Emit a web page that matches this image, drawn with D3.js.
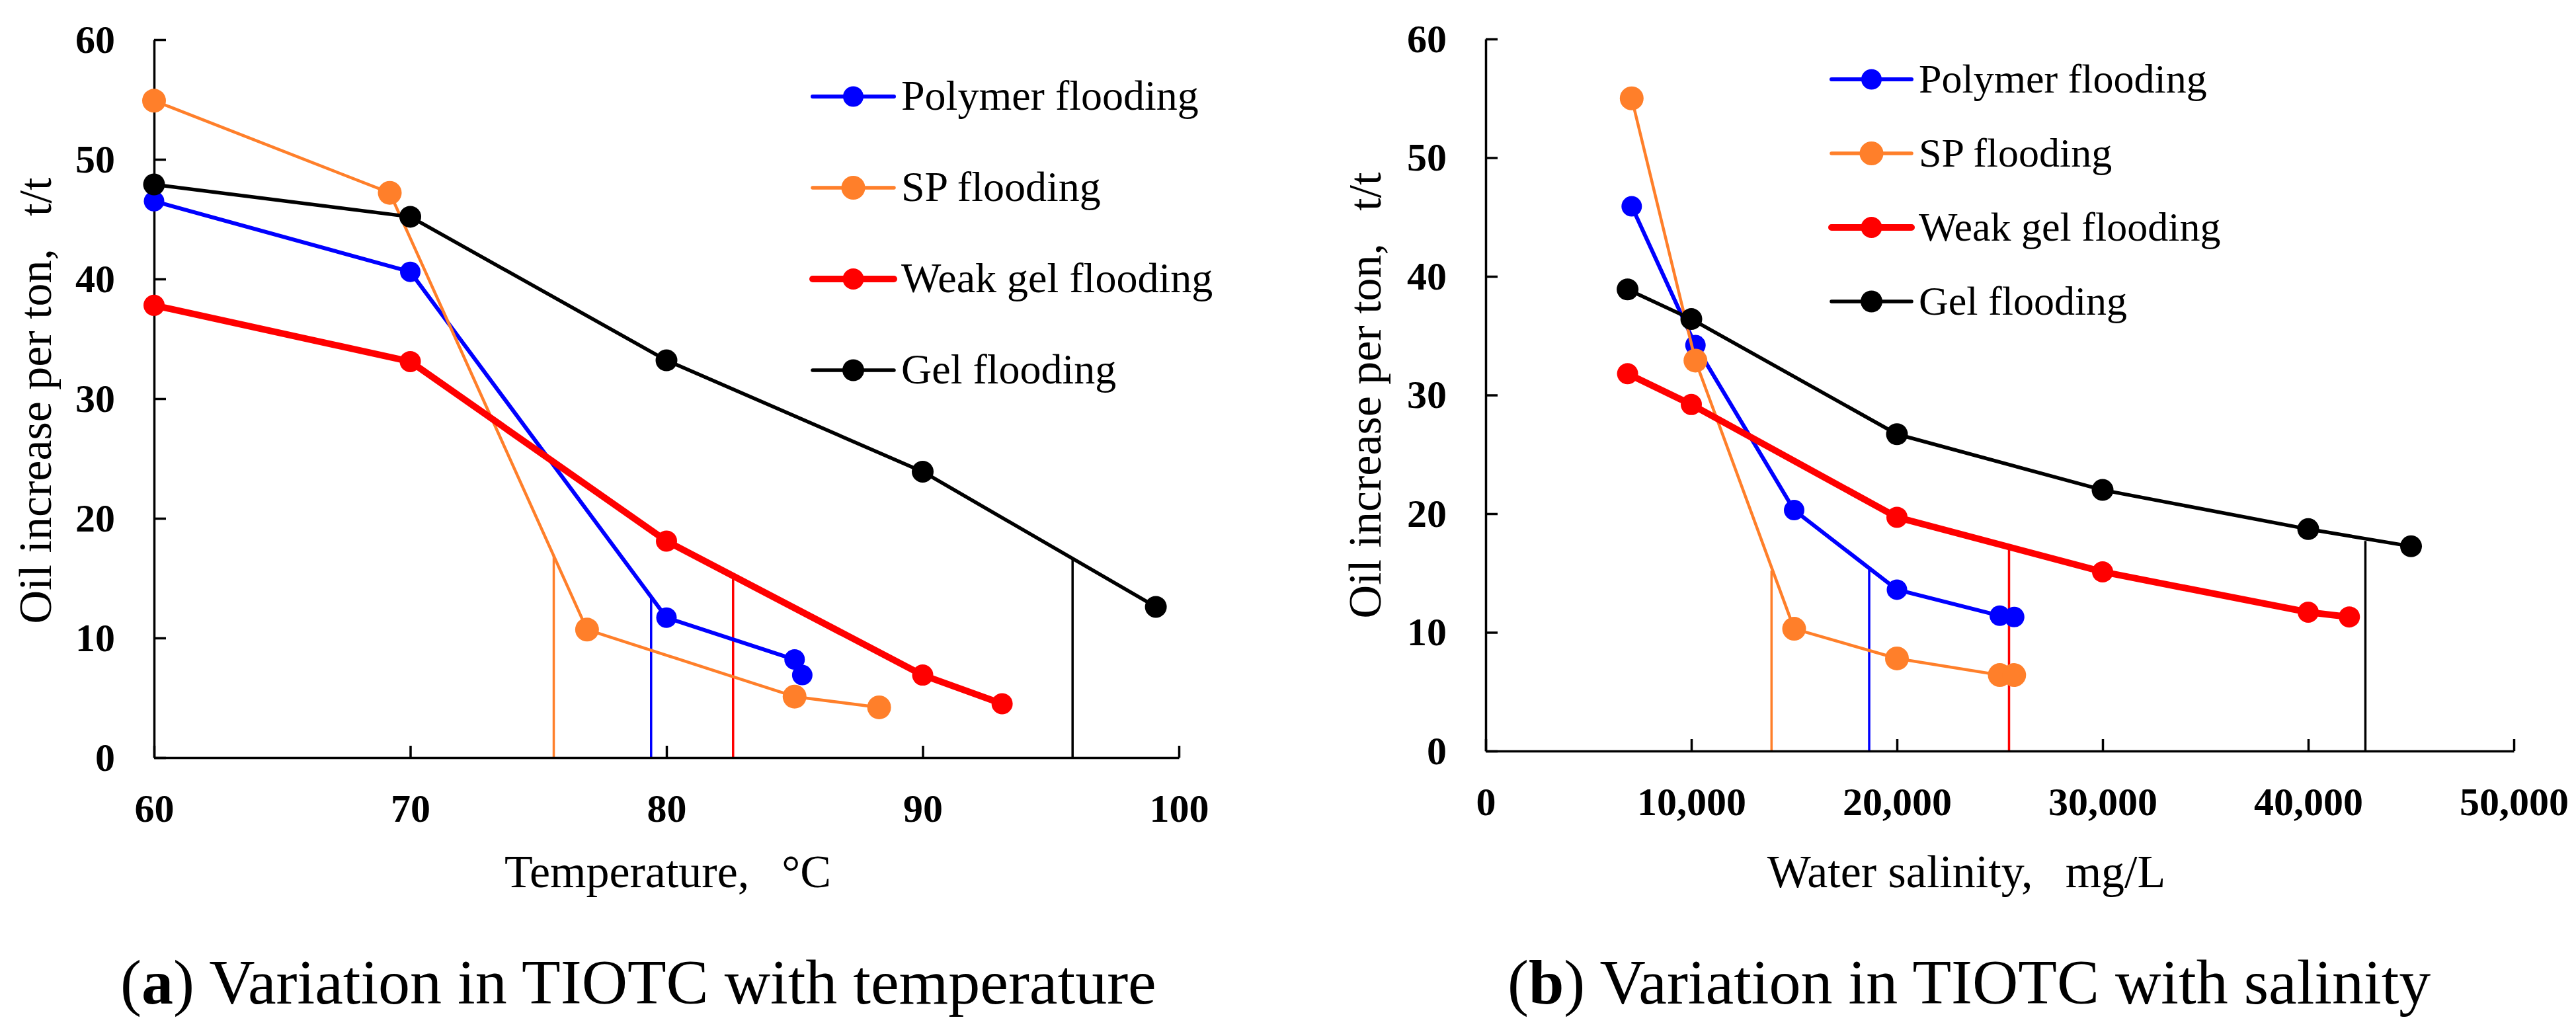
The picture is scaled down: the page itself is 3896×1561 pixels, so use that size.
<!DOCTYPE html>
<html>
<head>
<meta charset="utf-8">
<script src="https://cdn.jsdelivr.net/npm/d3@7"></script>
<style>
  body { margin: 0; background: #fff; }
  svg { display: block; }
  svg text { font-family: 'Liberation Serif', 'Times New Roman', serif; }
</style>
</head>
<body>
<svg id="chart"></svg>
<script>
// ---- data ----
const seriesNames = ['Polymer flooding', 'SP flooding', 'Weak gel flooding', 'Gel flooding'];

// (a) temperature, degC  vs  oil increase per ton, t/t
const tempTicks = [60, 70, 80, 90, 100];
const tempPolymerX = [60, 70, 80, 85, 85.3];
const tempPolymerY = [46.5, 40.6, 11.7, 8.2, 6.9];
const tempSpX = [60, 69.2, 76.9, 85, 88.3];
const tempSpY = [54.9, 47.2, 10.7, 5.1, 4.2];
const tempWeakGelX = [60, 70, 80, 90, 93.1];
const tempWeakGelY = [37.8, 33.1, 18.1, 6.9, 4.5];
const tempGelX = [60, 70, 80, 90, 99.1];
const tempGelY = [47.9, 45.2, 33.2, 23.9, 12.6];
// critical temperature drop lines (same order as seriesNames)
const tempCriticalX = [79.4, 75.6, 82.6, 95.85];
const tempCriticalTop = [13.5, 16.9, 15.0, 16.6];

// (b) water salinity, mg/L  vs  oil increase per ton, t/t
const salTicks = [0, 10000, 20000, 30000, 40000, 50000];
const salPolymerX = [7100, 10200, 15000, 20000, 25000, 25700];
const salPolymerY = [45.9, 34.2, 20.3, 13.6, 11.4, 11.3];
const salSpX = [7100, 10200, 15000, 20000, 25000, 25700];
const salSpY = [55.0, 32.9, 10.3, 7.8, 6.4, 6.4];
const salWeakGelX = [6900, 10000, 20000, 30000, 40000, 42000];
const salWeakGelY = [31.8, 29.2, 19.7, 15.1, 11.7, 11.3];
const salGelX = [6900, 10000, 20000, 30000, 40000, 45000];
const salGelY = [38.9, 36.4, 26.7, 22.0, 18.7, 17.25];
const salCriticalX = [18650, 13900, 25450, 42780];
const salCriticalTop = [15.5, 15.2, 17.0, 17.7];

const yTicks = [0, 10, 20, 30, 40, 50, 60];

// ---- styling ----
const W = 3896, H = 1561;
const styles = [
  { color: '#0000ff', width: 6,   r: 15.5 },
  { color: '#ff7f2a', width: 4.5, r: 18 },
  { color: '#ff0000', width: 10,  r: 16 },
  { color: '#000000', width: 5.5, r: 16.5 }
];

const svg = d3.select('#chart')
  .attr('width', W)
  .attr('height', H)
  .attr('viewBox', `0 0 ${W} ${H}`);

svg.append('rect').attr('width', W).attr('height', H).attr('fill', '#fff');

function zip(xs, ys) {
  return xs.map((x, i) => ({ x: x, y: ys[i] }));
}

function drawPanel(p) {
  const x = d3.scaleLinear().domain(p.xDomain).range(p.xRange);
  const y = d3.scaleLinear().domain([0, 60]).range(p.yRange);
  const g = svg.append('g');

  // critical drop lines
  g.selectAll('line.crit')
    .data(p.critX.map((cx, i) => ({ x: cx, top: p.critTop[i], s: styles[i] })))
    .enter()
    .append('line')
    .attr('class', 'crit')
    .attr('x1', d => x(d.x))
    .attr('x2', d => x(d.x))
    .attr('y1', y(0))
    .attr('y2', d => y(d.top))
    .attr('stroke', d => d.s.color)
    .attr('stroke-width', 3.5);

  // axes, ticks pointing inward
  const xAxis = g.append('g')
    .attr('transform', `translate(0, ${y(0)})`)
    .call(d3.axisBottom(x)
      .tickValues(p.xTicks)
      .tickFormat(p.xFormat)
      .tickSizeInner(-18)
      .tickSizeOuter(0)
      .tickPadding(54));

  const yAxis = g.append('g')
    .attr('transform', `translate(${x(p.xDomain[0])}, 0)`)
    .call(d3.axisLeft(y)
      .tickValues(yTicks)
      .tickSizeInner(-18)
      .tickSizeOuter(0)
      .tickPadding(59));

  [xAxis, yAxis].forEach(a => {
    a.attr('font-family', null).attr('font-size', null);
    a.select('.domain').attr('stroke', '#000').attr('stroke-width', 3.5);
    a.selectAll('.tick line').attr('stroke', '#000').attr('stroke-width', 3.5);
    a.selectAll('.tick text')
      .attr('fill', '#000')
      .style('font-size', '60px')
      .style('font-weight', 'bold');
  });

  // series
  const line = d3.line().x(d => x(d.x)).y(d => y(d.y));
  p.series.forEach((pts, i) => {
    const s = styles[i];
    const sg = g.append('g');
    sg.append('path')
      .datum(pts)
      .attr('d', line)
      .attr('fill', 'none')
      .attr('stroke', s.color)
      .attr('stroke-width', s.width)
      .attr('stroke-linejoin', 'round');
    sg.selectAll('circle')
      .data(pts)
      .enter()
      .append('circle')
      .attr('cx', d => x(d.x))
      .attr('cy', d => y(d.y))
      .attr('r', s.r)
      .attr('fill', s.color);
  });

  // legend
  const lg = g.append('g');
  seriesNames.forEach((name, i) => {
    const s = styles[i];
    const ry = p.legend.y0 + i * p.legend.dy;
    lg.append('line')
      .attr('x1', p.legend.x0).attr('x2', p.legend.x1)
      .attr('y1', ry).attr('y2', ry)
      .attr('stroke', s.color)
      .attr('stroke-width', Math.max(s.width, 5.5))
      .attr('stroke-linecap', 'round');
    lg.append('circle')
      .attr('cx', (p.legend.x0 + p.legend.x1) / 2)
      .attr('cy', ry)
      .attr('r', s.r)
      .attr('fill', s.color);
    lg.append('text')
      .attr('x', p.legend.tx)
      .attr('y', ry)
      .attr('dy', '0.32em')
      .style('font-size', p.legend.size + 'px')
      .text(name);
  });

  // axis titles
  g.append('text')
    .attr('x', p.xTitleX)
    .attr('y', 1342)
    .attr('text-anchor', 'middle')
    .style('font-size', '70px')
    .text(p.xTitle);

  g.append('text')
    .attr('transform', `translate(${p.yTitleX}, ${p.yTitleY}) rotate(-90)`)
    .attr('text-anchor', 'middle')
    .style('font-size', '70px')
    .text('Oil increase per ton,\u2002\u2009t/t');

  // caption
  const cap = g.append('text')
    .attr('x', p.capX)
    .attr('y', 1518)
    .style('font-size', '96px');
  cap.append('tspan').text('(');
  cap.append('tspan').style('font-weight', 'bold').text(p.capLetter);
  cap.append('tspan').text(') ' + p.capText);
}

drawPanel({
  xDomain: [60, 100], xRange: [233, 1783], yRange: [1146, 60],
  xTicks: tempTicks, xFormat: d3.format('d'),
  critX: tempCriticalX, critTop: tempCriticalTop,
  series: [zip(tempPolymerX, tempPolymerY), zip(tempSpX, tempSpY),
           zip(tempWeakGelX, tempWeakGelY), zip(tempGelX, tempGelY)],
  legend: { x0: 1229, x1: 1352, tx: 1363, y0: 146, dy: 138, size: 64 },
  xTitle: 'Temperature,\u2002\u2009°C', xTitleX: 1010,
  yTitleX: 77, yTitleY: 606,
  capX: 182, capLetter: 'a', capText: 'Variation in TIOTC with temperature'
});

drawPanel({
  xDomain: [0, 50000], xRange: [2247, 3802], yRange: [1136, 59],
  xTicks: salTicks, xFormat: d3.format(','),
  critX: salCriticalX, critTop: salCriticalTop,
  series: [zip(salPolymerX, salPolymerY), zip(salSpX, salSpY),
           zip(salWeakGelX, salWeakGelY), zip(salGelX, salGelY)],
  legend: { x0: 2770, x1: 2891, tx: 2902, y0: 120, dy: 112, size: 62 },
  xTitle: 'Water salinity,\u2002\u2009mg/L', xTitleX: 2974,
  yTitleX: 2088, yTitleY: 598,
  capX: 2280, capLetter: 'b', capText: 'Variation in TIOTC with salinity'
});
</script>
</body>
</html>
